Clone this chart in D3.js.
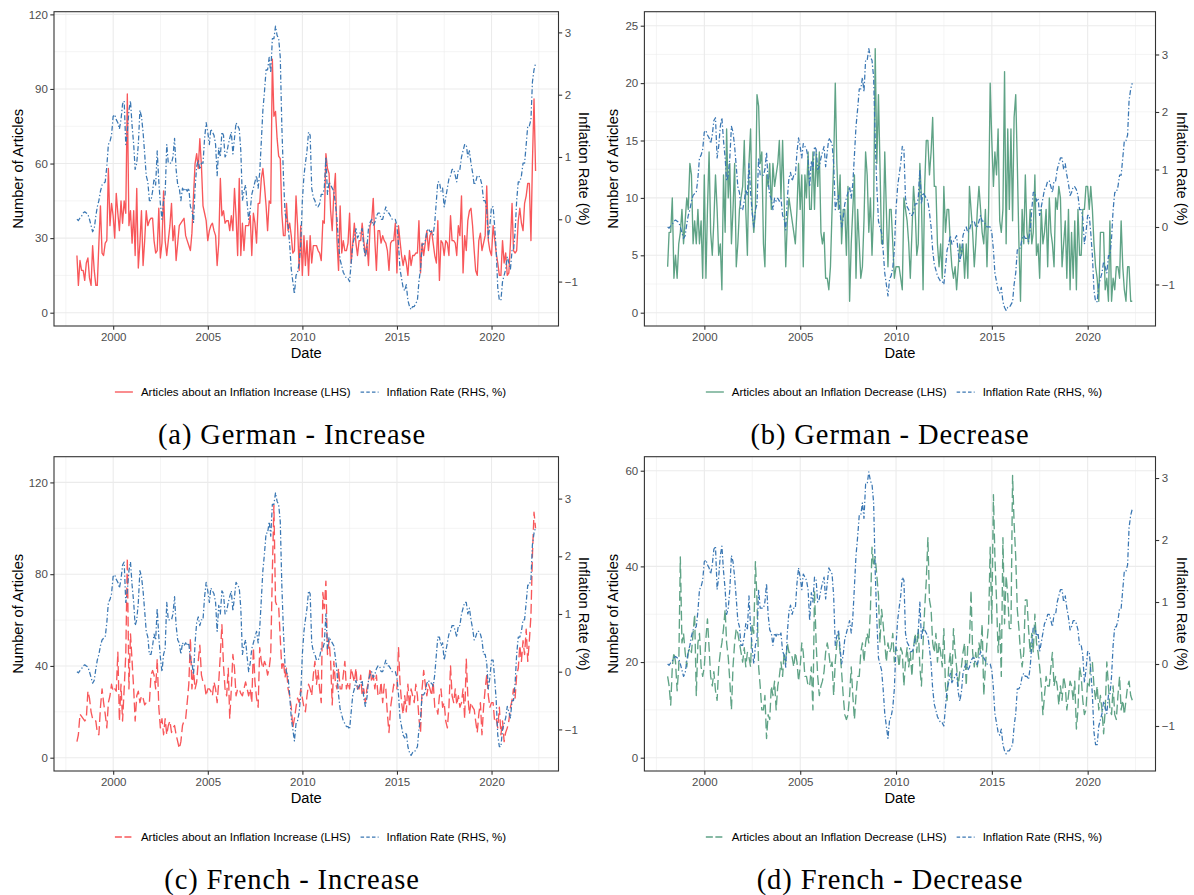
<!DOCTYPE html>
<html>
<head>
<meta charset="utf-8">
<script src="https://cdn.jsdelivr.net/npm/d3@7"></script>
<style>
  html, body { margin: 0; padding: 0; background: #ffffff; }
  svg { display: block; }
  text { font-family: "Liberation Sans", Arial, Helvetica, sans-serif; }
</style>
</head>
<body>
<svg id="chart" width="1194" height="895"></svg>
<script>
// ---------------- DATA (monthly, Jan 1998 – Apr 2022) ----------------
const startYear = 1998;

// Inflation rate (%), shared by all four panels (RHS)
const inflation = [
  0.0, -0.02, 0.02, 0.05, 0.1, 0.12, 0.1, 0.08, 0.0, -0.1, -0.2, -0.15,
  0.05, 0.2, 0.3, 0.45, 0.55, 0.58, 0.6, 0.85, 1.2, 1.25, 1.35, 1.65,
  1.68, 1.6, 1.55, 1.45, 1.6, 1.85, 1.9, 1.2, 1.4, 1.75, 1.9, 1.5,
  1.2, 0.8, 0.9, 1.2, 1.75, 1.65, 1.4, 1.05, 0.7, 0.6, 0.3, 0.3,
  0.45, 0.65, 0.55, 1.1, 0.6, 0.25, 0.0, 0.3, 0.4, 1.2, 0.9, 0.9,
  0.9, 1.0, 1.3, 0.8, 0.55, 0.5, 0.3, 0.5, 0.45, 0.5, 0.45, 0.5,
  0.2, 0.15, -0.05, 0.5, 0.85, 0.95, 0.8, 0.9, 0.9, 1.3, 1.55, 1.4,
  1.2, 1.45, 1.4, 1.35, 1.2, 0.7, 1.15, 1.0, 1.4, 1.35, 1.0, 1.05,
  1.2, 1.3, 1.4, 1.05, 1.3, 1.55, 1.5, 1.45, 1.1, 0.3, 0.45, 0.55,
  0.25, 0.0, 0.15, 0.4, 0.5, 0.6, 0.7, 0.5, 0.75, 1.25, 1.75, 2.05,
  2.4, 2.4, 2.6, 2.35, 2.9, 2.9, 3.1, 2.95, 2.9, 2.6, 1.5, 0.7,
  0.1, 0.0, -0.1, -0.4, -0.8, -1.0, -1.2, -0.9, -0.85, -0.7, -0.4, 0.3,
  0.7, 0.9, 1.1, 1.4, 1.35, 0.5, 0.35, 0.3, 0.2, 0.2, 0.25, 0.4,
  0.4, 0.5, 1.0, 0.4, 0.6, 0.55, 0.5, 0.45, 0.25, 0.0, -0.4, -0.65,
  -0.75, -0.85, -0.9, -0.95, -0.95, -1.0, -0.7, -0.4, -0.3, -0.15, -0.3, -0.25,
  -0.2, -0.15, -0.45, -0.6, -0.45, -0.15, -0.05, 0.0, -0.1, -0.05, 0.05, 0.1,
  0.1, 0.0, 0.0, 0.1, 0.2, 0.1, 0.1, 0.05, 0.0, 0.0, 0.0, -0.1,
  -0.4, -0.8, -0.95, -1.1, -1.15, -1.05, -1.3, -1.4, -1.45, -1.4, -1.4, -1.35,
  -1.3, -1.0, -0.8, -0.4, -0.4, -0.35, -0.2, -0.15, -0.2, -0.2, -0.25, -0.05,
  0.3, 0.6, 0.6, 0.45, 0.5, 0.2, 0.35, 0.5, 0.65, 0.7, 0.8, 0.8,
  0.7, 0.6, 0.8, 0.8, 1.0, 1.1, 1.2, 1.2, 1.0, 1.1, 0.9, 0.75,
  0.55, 0.6, 0.7, 0.7, 0.65, 0.55, 0.3, 0.3, 0.15, -0.3, -0.1, 0.2,
  0.2, -0.1, -0.5, -1.1, -1.3, -1.3, -1.0, -0.9, -0.8, -0.6, -0.7, -0.8,
  -0.5, -0.5, -0.2, 0.3, 0.6, 0.6, 0.7, 0.9, 0.9, 1.2, 1.5, 1.5,
  1.6, 2.2, 2.4, 2.5
];

// (a) German articles about an inflation increase
const germanIncrease = [
  23, 11, 21, 17, 17, 13, 20, 22, 14, 11, 27, 17,
  11, 11, 28, 43, 24, 23, 28, 29, 58, 35, 44, 39,
  30, 48, 40, 33, 45, 36, 45, 40, 88, 35, 41, 28,
  41, 23, 50, 18, 28, 41, 19, 29, 41, 35, 37, 38,
  38, 29, 24, 25, 42, 22, 28, 49, 29, 23, 29, 35,
  44, 29, 35, 21, 28, 35, 36, 37, 38, 31, 29, 27,
  25, 32, 47, 60, 64, 58, 70, 59, 43, 40, 37, 29,
  33, 35, 36, 33, 31, 19, 28, 54, 39, 41, 36, 37,
  37, 33, 39, 33, 50, 39, 23, 54, 23, 36, 25, 35,
  35, 35, 39, 23, 40, 36, 28, 44, 44, 54, 58, 51,
  43, 33, 45, 44, 102, 79, 81, 70, 63, 62, 40, 31,
  31, 44, 33, 36, 31, 24, 25, 47, 35, 17, 35, 15,
  31, 19, 29, 15, 31, 20, 27, 27, 27, 25, 24, 21,
  37, 36, 64, 58, 56, 41, 33, 48, 56, 29, 17, 43,
  24, 29, 25, 25, 28, 40, 20, 28, 36, 28, 23, 29,
  29, 36, 29, 23, 28, 19, 35, 37, 46, 29, 17, 33,
  33, 28, 31, 29, 28, 25, 17, 28, 29, 29, 36, 16,
  35, 29, 23, 19, 23, 20, 15, 25, 19, 23, 23, 24,
  24, 37, 16, 28, 23, 28, 33, 25, 31, 33, 28, 23,
  20, 37, 13, 29, 28, 23, 29, 28, 23, 39, 29, 29,
  28, 23, 35, 31, 47, 16, 31, 25, 37, 41, 42, 35,
  25, 17, 15, 29, 32, 25, 28, 31, 51, 29, 25, 23,
  35, 30, 24, 20, 15, 15, 29, 20, 24, 15, 16, 28,
  44, 25, 24, 25, 37, 42, 36, 33, 44, 47, 52, 52,
  29, 60, 86, 57
];

// (b) German articles about an inflation decrease
const germanDecrease = [
  4, 7, 7, 10, 3, 5, 3, 6, 7, 9, 6, 8,
  10, 9, 13, 12, 6, 8, 6, 9, 6, 8, 3, 12,
  3, 9, 14, 7, 5, 8, 12, 9, 5, 6, 2, 12,
  7, 16, 10, 13, 6, 9, 13, 4, 6, 9, 10, 11,
  15, 9, 5, 13, 16, 9, 7, 9, 19, 18, 13, 14,
  6, 4, 12, 11, 13, 9, 13, 11, 12, 13, 15, 10,
  15, 10, 4, 8, 10, 9, 8, 7, 6, 9, 13, 9,
  12, 4, 12, 10, 14, 9, 9, 14, 9, 14, 11, 14,
  7, 6, 7, 3, 3, 2, 4, 9, 13, 20, 13, 9,
  12, 6, 9, 9, 5, 11, 1, 6, 9, 12, 3, 9,
  6, 3, 4, 8, 14, 12, 7, 10, 5, 9, 23, 13,
  19, 13, 6, 6, 14, 9, 4, 9, 9, 6, 3, 4,
  4, 4, 3, 2, 10, 9, 8, 6, 3, 7, 11, 9,
  5, 6, 13, 10, 2, 11, 15, 15, 12, 14, 17, 11,
  11, 6, 4, 6, 3, 11, 7, 9, 9, 6, 4, 3,
  4, 2, 4, 6, 5, 6, 3, 6, 3, 11, 9, 7,
  4, 6, 9, 11, 9, 7, 6, 9, 4, 9, 20, 15,
  11, 14, 12, 16, 8, 7, 9, 21, 6, 16, 9, 16,
  8, 17, 19, 13, 6, 1, 9, 6, 12, 7, 6, 9,
  6, 7, 12, 5, 6, 3, 9, 6, 7, 9, 4, 10,
  7, 6, 4, 10, 9, 11, 10, 4, 6, 8, 3, 9,
  2, 7, 3, 8, 2, 9, 5, 5, 9, 9, 11, 11,
  9, 11, 9, 6, 4, 3, 1, 7, 7, 7, 2, 3,
  1, 8, 1, 3, 2, 4, 4, 3, 8, 4, 2, 1,
  4, 4, 1, 1
];

// (c) French articles about an inflation increase
const frenchIncrease = [
  7, 10, 19, 18, 17, 16, 17, 29, 26, 20, 17, 16,
  16, 11, 10, 22, 30, 24, 19, 13, 24, 27, 32, 29,
  30, 29, 46, 16, 32, 16, 30, 45, 87, 30, 54, 42,
  30, 16, 27, 29, 24, 27, 26, 23, 24, 24, 24, 36,
  38, 36, 30, 43, 22, 13, 17, 10, 17, 10, 14, 16,
  11, 13, 14, 10, 7, 4, 7, 14, 16, 17, 24, 32,
  52, 30, 38, 30, 33, 42, 49, 36, 33, 32, 27, 30,
  30, 29, 27, 33, 30, 24, 33, 45, 58, 40, 30, 27,
  39, 17, 30, 45, 39, 27, 30, 30, 28, 27, 30, 33,
  30, 27, 30, 24, 48, 33, 26, 22, 48, 42, 39, 42,
  40, 36, 39, 45, 81, 110, 68, 66, 66, 52, 39, 42,
  35, 39, 30, 27, 22, 13, 17, 22, 26, 24, 30, 26,
  22, 20, 27, 32, 30, 27, 36, 42, 32, 38, 30, 24,
  72, 65, 77, 45, 51, 42, 23, 42, 33, 30, 39, 30,
  30, 36, 42, 30, 33, 30, 39, 36, 33, 39, 30, 30,
  36, 27, 30, 24, 30, 33, 39, 33, 36, 30, 36, 27,
  27, 33, 24, 32, 30, 19, 11, 22, 27, 32, 30, 30,
  48, 33, 24, 19, 27, 20, 32, 22, 30, 27, 24, 32,
  27, 17, 11, 30, 38, 32, 27, 32, 30, 27, 33, 22,
  22, 19, 27, 30, 22, 24, 16, 13, 22, 40, 27, 24,
  30, 23, 27, 22, 24, 30, 17, 43, 27, 19, 24, 22,
  21, 16, 11, 19, 24, 10, 22, 30, 36, 27, 22, 24,
  24, 16, 17, 13, 22, 10, 16, 7, 11, 13, 16, 22,
  25, 30, 26, 36, 39, 49, 42, 51, 45, 56, 42, 51,
  62, 88, 107, 100
];

// (d) French articles about an inflation decrease
const frenchDecrease = [
  17, 15, 11, 19, 22, 20, 14, 19, 42, 24, 26, 22,
  19, 22, 23, 22, 26, 30, 13, 24, 26, 19, 17, 19,
  25, 29, 23, 17, 15, 18, 14, 12, 19, 22, 24, 27,
  31, 24, 21, 16, 10, 19, 24, 27, 26, 24, 22, 20,
  23, 19, 22, 21, 19, 28, 26, 41, 33, 19, 15, 10,
  10, 13, 4, 9, 8, 15, 13, 16, 10, 15, 17, 20,
  17, 22, 20, 24, 22, 22, 21, 19, 22, 20, 16, 19,
  24, 22, 17, 17, 15, 15, 19, 10, 35, 24, 17, 13,
  15, 16, 18, 22, 24, 22, 19, 20, 13, 20, 24, 26,
  22, 18, 13, 9, 8, 9, 13, 19, 13, 8, 13, 17,
  17, 22, 24, 20, 24, 26, 24, 31, 44, 40, 42, 38,
  34, 24, 31, 28, 24, 20, 24, 22, 23, 26, 20, 23,
  22, 19, 23, 22, 15, 20, 23, 19, 22, 17, 23, 26,
  22, 27, 19, 15, 24, 31, 37, 46, 33, 31, 24, 22,
  26, 20, 24, 22, 19, 27, 15, 12, 19, 22, 16, 27,
  22, 19, 15, 18, 19, 22, 24, 15, 24, 24, 35, 22,
  19, 22, 19, 24, 22, 28, 13, 19, 24, 28, 44, 28,
  55, 42, 33, 22, 28, 17, 46, 28, 38, 34, 27, 27,
  59, 49, 42, 31, 27, 22, 19, 22, 33, 33, 27, 22,
  26, 22, 30, 24, 22, 19, 15, 9, 13, 17, 15, 15,
  19, 22, 15, 17, 15, 11, 15, 12, 17, 15, 10, 13,
  16, 15, 12, 16, 6, 10, 19, 17, 12, 9, 10, 16,
  15, 20, 20, 15, 12, 15, 10, 13, 10, 5, 10, 20,
  15, 10, 9, 15, 9, 8, 13, 17, 10, 12, 9, 12,
  15, 16, 13, 12
];

const xTickYears = [2000, 2005, 2010, 2015, 2020];
const xMinorYears = [1997.5, 2002.5, 2007.5, 2012.5, 2017.5, 2022.5];
const rightTicks = [-1, 0, 1, 2, 3];

// ---------------- LAYOUT / STYLE ----------------
const RED = "#F8575A", GREEN = "#5FA386", BLUE = "#3A77B3";
const LONGDASH = "9.8,4.2";
const DOTDASH = "5,2.2,1.3,2.2";

const dates = inflation.map((_, i) => new Date(startYear, i + 1, 0));

const panels = [
  { series: germanIncrease, color: RED, dash: null,
    key: "Articles about an Inflation Increase (LHS)", caption: "(a) German - Increase",
    l: 54, r: 558.5, t: 11.7, b: 326,
    yDomain: [-5.35, 121.08], yMajor: [0, 30, 60, 90, 120], yMinor: [15, 45, 75, 105],
    rDomain: [-1.713, 3.332], legendCx: 310.5, captionCx: 292, yTitleX: 18, rTitleX: 584 },
  { series: germanDecrease, color: GREEN, dash: null,
    key: "Articles about an Inflation Decrease (LHS)", caption: "(b) German - Decrease",
    l: 644.4, r: 1155.5, t: 11.7, b: 326,
    yDomain: [-1.159, 26.22], yMajor: [0, 5, 10, 15, 20, 25], yMinor: [2.5, 7.5, 12.5, 17.5, 22.5],
    rDomain: [-1.722, 3.744], legendCx: 904, captionCx: 890, yTitleX: 613, rTitleX: 1182 },
  { series: frenchIncrease, color: RED, dash: LONGDASH,
    key: "Articles about an Inflation Increase (LHS)", caption: "(c) French - Increase",
    l: 54, r: 558.5, t: 456.7, b: 771,
    yDomain: [-5.80, 131.21], yMajor: [0, 40, 80, 120], yMinor: [20, 60, 100],
    rDomain: [-1.721, 3.726], legendCx: 310.5, captionCx: 292, yTitleX: 18, rTitleX: 584 },
  { series: frenchDecrease, color: GREEN, dash: LONGDASH,
    key: "Articles about an Inflation Decrease (LHS)", caption: "(d) French - Decrease",
    l: 644.4, r: 1155.5, t: 456.7, b: 771,
    yDomain: [-2.78, 62.93], yMajor: [0, 20, 40, 60], yMinor: [10, 30, 50],
    rDomain: [-1.726, 3.344], legendCx: 904, captionCx: 890, yTitleX: 613, rTitleX: 1182 }
];

const svg = d3.select("#chart");
svg.append("rect").attr("width", 1194).attr("height", 895).attr("fill", "#fff");

const ext = d3.extent(dates);
const span = ext[1] - ext[0];
const xDomain = [new Date(+ext[0] - span * 0.05), new Date(+ext[1] + span * 0.05)];
const yearDate = y => new Date(Math.floor(y), Math.round((y % 1) * 12), 1);

panels.forEach(p => {
  const g = svg.append("g");
  const x = d3.scaleTime().domain(xDomain).range([p.l, p.r]);
  const y = d3.scaleLinear().domain(p.yDomain).range([p.b, p.t]);
  const yr = d3.scaleLinear().domain(p.rDomain).range([p.b, p.t]);

  // grid
  const grid = g.append("g");
  xMinorYears.forEach(v => grid.append("line").attr("x1", x(yearDate(v))).attr("x2", x(yearDate(v)))
    .attr("y1", p.t).attr("y2", p.b).attr("stroke", "#EBEBEB").attr("stroke-width", 0.55));
  p.yMinor.forEach(v => grid.append("line").attr("x1", p.l).attr("x2", p.r)
    .attr("y1", y(v)).attr("y2", y(v)).attr("stroke", "#EBEBEB").attr("stroke-width", 0.55));
  xTickYears.forEach(v => grid.append("line").attr("x1", x(yearDate(v))).attr("x2", x(yearDate(v)))
    .attr("y1", p.t).attr("y2", p.b).attr("stroke", "#EBEBEB").attr("stroke-width", 1.1));
  p.yMajor.forEach(v => grid.append("line").attr("x1", p.l).attr("x2", p.r)
    .attr("y1", y(v)).attr("y2", y(v)).attr("stroke", "#EBEBEB").attr("stroke-width", 1.1));

  // clip
  const clipId = "clip" + Math.round(p.l) + "_" + Math.round(p.t);
  svg.append("clipPath").attr("id", clipId).append("rect")
    .attr("x", p.l).attr("y", p.t).attr("width", p.r - p.l).attr("height", p.b - p.t);

  const lines = g.append("g").attr("clip-path", `url(#${clipId})`);
  // article series
  const artLine = d3.line().x((d, i) => x(dates[i])).y(d => y(d));
  lines.append("path").datum(p.series).attr("d", artLine)
    .attr("fill", "none").attr("stroke", p.color).attr("stroke-width", 1.35)
    .attr("stroke-linejoin", "round")
    .attr("stroke-dasharray", p.dash);
  // inflation
  const infLine = d3.line().x((d, i) => x(dates[i])).y(d => yr(d));
  lines.append("path").datum(inflation).attr("d", infLine)
    .attr("fill", "none").attr("stroke", BLUE).attr("stroke-width", 1.25)
    .attr("stroke-linejoin", "round")
    .attr("stroke-dasharray", DOTDASH);

  // panel border
  g.append("rect").attr("x", p.l).attr("y", p.t).attr("width", p.r - p.l).attr("height", p.b - p.t)
    .attr("fill", "none").attr("stroke", "#333333").attr("stroke-width", 1.1);

  // axes
  const tickStyle = sel => {
    sel.select(".domain").remove();
    sel.selectAll(".tick line").attr("stroke", "#333333").attr("stroke-width", 1.1);
    sel.selectAll(".tick text").attr("fill", "#4D4D4D")
      .style("font-family", '"Liberation Sans", Arial, sans-serif').style("font-size", "11.5px");
  };
  g.append("g").attr("transform", `translate(0,${p.b})`)
    .call(d3.axisBottom(x).tickValues(xTickYears.map(v => new Date(v, 0, 1)))
      .tickFormat(d3.timeFormat("%Y")).tickSize(3.7).tickPadding(3.5))
    .call(tickStyle);
  g.append("g").attr("transform", `translate(${p.l},0)`)
    .call(d3.axisLeft(y).tickValues(p.yMajor).tickSize(3.7).tickPadding(2.5))
    .call(tickStyle);
  g.append("g").attr("transform", `translate(${p.r},0)`)
    .call(d3.axisRight(yr).tickValues(rightTicks).tickSize(3.7).tickPadding(2.5)
      .tickFormat(d => d < 0 ? "\u2212" + Math.abs(d) : String(d)))
    .call(tickStyle);

  // axis titles
  const midY = (p.t + p.b) / 2;
  g.append("text").text("Date").attr("x", (p.l + p.r) / 2).attr("y", p.b + 31.5)
    .attr("text-anchor", "middle").attr("font-size", 14.7).attr("fill", "#000");
  g.append("text").text("Number of Articles")
    .attr("transform", `translate(${p.yTitleX + 5},${midY}) rotate(-90)`)
    .attr("text-anchor", "middle").attr("font-size", 14.7).attr("fill", "#000");
  g.append("text").text("Inflation Rate (%)")
    .attr("transform", `translate(${p.rTitleX - 5},${midY}) rotate(90)`)
    .attr("text-anchor", "middle").attr("font-size", 14.7).attr("fill", "#000");

  // legend
  const ly = p.b + 66;
  const lg = g.append("g");
  const keyW = 18, keyGap = 8, itemGap = 10;
  const t1 = lg.append("text").text(p.key).attr("font-size", 11.5).attr("fill", "#000")
    .attr("dominant-baseline", "central").attr("y", ly);
  const t2 = lg.append("text").text("Inflation Rate (RHS, %)").attr("font-size", 11.5).attr("fill", "#000")
    .attr("dominant-baseline", "central").attr("y", ly);
  const w1 = t1.node().getComputedTextLength(), w2 = t2.node().getComputedTextLength();
  const total = keyW + keyGap + w1 + itemGap + keyW + keyGap + w2;
  let cx = p.legendCx - total / 2;
  lg.append("line").attr("x1", cx).attr("x2", cx + keyW).attr("y1", ly).attr("y2", ly)
    .attr("stroke", p.color).attr("stroke-width", 1.35).attr("stroke-dasharray", p.dash ? "7,2.5" : null);
  t1.attr("x", cx + keyW + keyGap);
  cx += keyW + keyGap + w1 + itemGap;
  lg.append("line").attr("x1", cx).attr("x2", cx + keyW).attr("y1", ly).attr("y2", ly)
    .attr("stroke", BLUE).attr("stroke-width", 1.25).attr("stroke-dasharray", "3.5,2.2");
  t2.attr("x", cx + keyW + keyGap);

  // caption
  g.append("text").text(p.caption).attr("x", p.captionCx).attr("y", p.b + 118)
    .attr("text-anchor", "middle")
    .style("font-family", '"Liberation Serif", "Times New Roman", serif')
    .style("font-size", "28.5px").style("letter-spacing", "0.9px").attr("fill", "#000");
});
</script>
</body>
</html>
